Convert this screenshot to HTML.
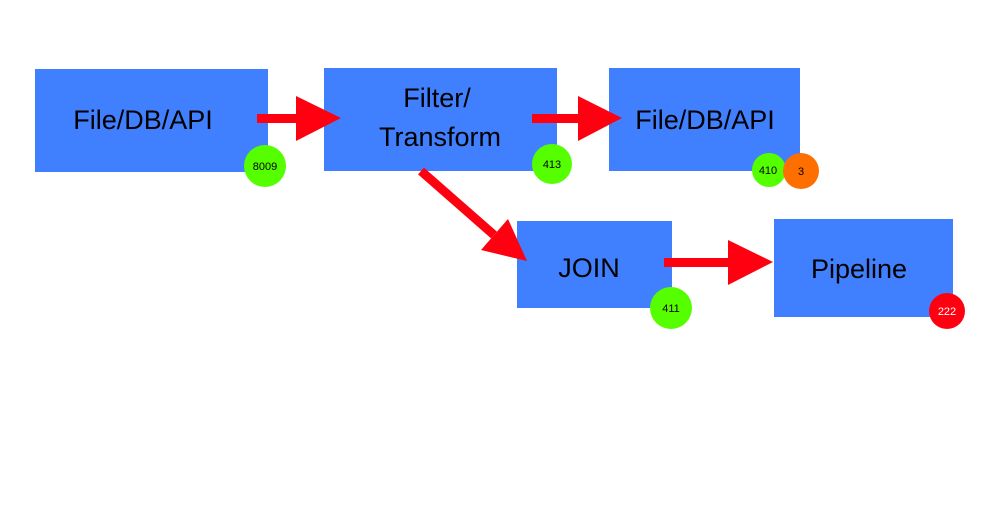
<!DOCTYPE html>
<html><head><style>
body{margin:0;background:#fff}
svg text{font-family:"Liberation Sans",sans-serif}
</style></head><body>
<svg width="1000" height="500" xmlns="http://www.w3.org/2000/svg">
<g fill="#4080ff">
<rect x="35" y="69" width="233" height="103"/>
<rect x="324" y="68" width="233" height="103"/>
<rect x="609" y="68" width="191" height="103"/>
<rect x="517" y="221" width="155" height="87"/>
<rect x="774" y="219" width="179" height="98"/>
</g>
<g fill="#ff0010">
<rect x="257" y="114" width="41" height="9"/>
<polygon points="296,96 341,118 296,141"/>
<rect x="532" y="114" width="48" height="9"/>
<polygon points="578,96 622,118 578,141"/>
<rect x="664" y="258" width="66" height="9"/>
<polygon points="728,240 773,262 728,285"/>
<line x1="421" y1="171" x2="494" y2="235" stroke="#ff0010" stroke-width="9"/>
<polygon points="481,250 508,219 527,261"/>
</g>
<g font-size="27" fill="#000" text-anchor="middle">
<text x="143" y="129">File/DB/API</text>
<text x="437" y="107">Filter/</text>
<text x="440" y="146">Transform</text>
<text x="705" y="129">File/DB/API</text>
<text x="589" y="277">JOIN</text>
<text x="859" y="278">Pipeline</text>
</g>
<g font-size="11" text-anchor="middle">
<circle cx="265" cy="166" r="21" fill="#55ff00"/><text x="265" y="170">8009</text>
<circle cx="552" cy="164" r="20" fill="#55ff00"/><text x="552" y="168">413</text>
<circle cx="769" cy="170" r="17" fill="#55ff00"/><text x="768" y="174">410</text>
<circle cx="801" cy="171" r="18" fill="#ff6f00"/><text x="801" y="175">3</text>
<circle cx="671" cy="308" r="21" fill="#55ff00"/><text x="671" y="312">411</text>
<circle cx="947" cy="311" r="18" fill="#ff0010"/><text x="947" y="315" fill="#fff">222</text>
</g>
</svg>
</body></html>
